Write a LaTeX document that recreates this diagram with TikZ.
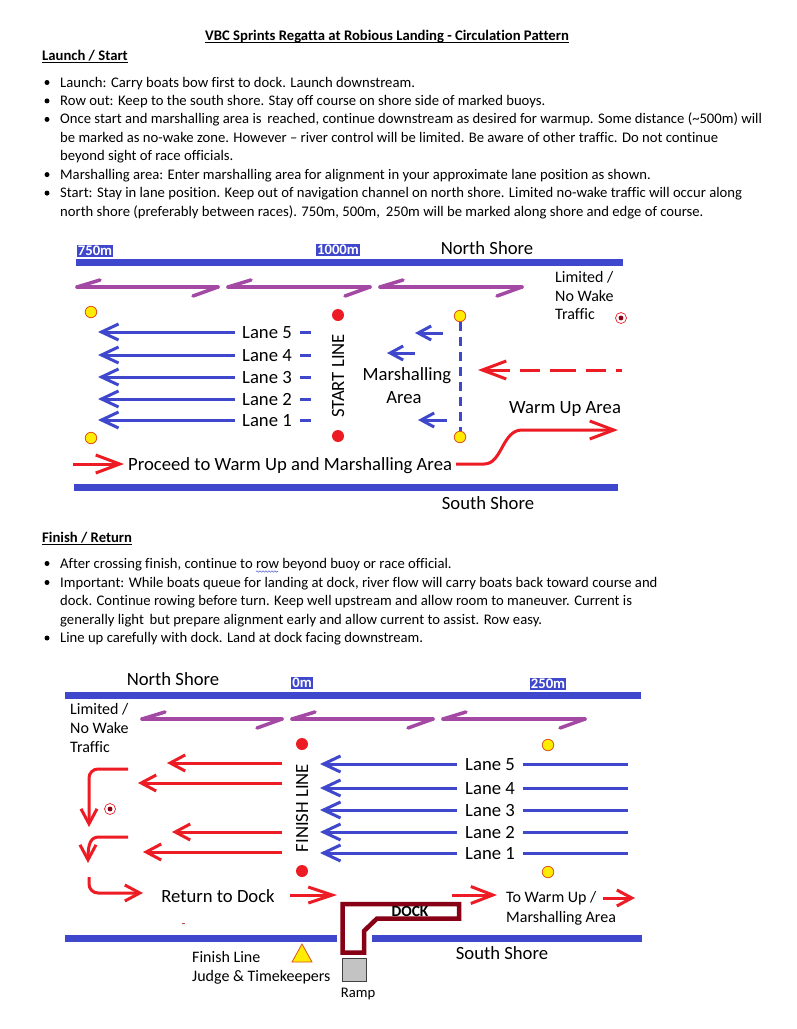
\documentclass[tikz,border=0pt]{standalone}
\usepackage{fontspec}
\setmainfont{Carlito}[Ligatures=NoCommon]
\usetikzlibrary{arrows.meta,decorations.pathmorphing}
\definecolor{myblue}{HTML}{3F48CC}
\definecolor{mypurple}{HTML}{A349A4}
\definecolor{myred}{HTML}{ED1C24}
\definecolor{myyellow}{HTML}{FFEC00}
\definecolor{myorange}{HTML}{D9531E}
\definecolor{mymaroon}{HTML}{880015}
\definecolor{mygrey}{HTML}{C3C3C3}
\newcommand{\fsz}[1]{\fontsize{#1}{#1}\selectfont}
\newcommand{\harp}[3]{%
  \draw[purp] (#1,#3) -- (#2,#3);
  \draw[purp] (#1,#3) -- ++(23,-7);
  \draw[purp] (#2,#3) -- ++(-25,9);}
\tikzset{
  body/.style={anchor=base west, inner sep=0pt, font=\fsz{14.67}},
  bodyb/.style={anchor=base west, inner sep=0pt, font=\bfseries\fsz{14.67}},
  lbl/.style={inner sep=0pt, font=\fsz{18.67}, text height=14pt, text depth=2pt},
  lane/.style={lbl, inner xsep=7pt},
  small/.style={anchor=west, inner sep=0pt, font=\fsz{16}, text height=12pt, text depth=1.6pt},
  shore/.style={draw=myblue, line width=7pt},
  distbox/.style={fill=myblue, draw=white, line width=1.2pt, text=white, font=\bfseries\fsz{14.67}, inner sep=1.5pt, text height=10pt, text depth=1pt},
  purp/.style={draw=mypurple, line width=3.5pt, line cap=round},
  bluearr/.style={draw=myblue, line width=3pt, -{Straight Barb[length=17pt,width=16pt]}},
  bluel/.style={draw=myblue, line width=3pt},
  redarr/.style={draw=myred, line width=3pt, -{Straight Barb[length=15pt,width=16pt]}},
  bigred/.style={draw=myred, line width=3pt, -{Straight Barb[length=24pt,width=18pt]}},
  smallblue/.style={draw=myblue, line width=3pt, -{Straight Barb[length=13pt,width=14pt]}},
  ydot/.style={circle, fill=myyellow, draw=myorange, line width=0.8pt, minimum size=11.5pt, inner sep=0pt},
  rdot/.style={circle, fill=myred, minimum size=12pt, inner sep=0pt},
  bull/.style={circle, fill=black, minimum size=5pt, inner sep=0pt},
  wake/.style={circle, draw=myred, line width=0.7pt, fill=white, minimum size=11pt, inner sep=0pt,
    path picture={\fill[mymaroon] (path picture bounding box.center) circle (2.4pt);}},
}
\begin{document}
\begin{tikzpicture}[x=1pt,y=-1pt]
\useasboundingbox (0,0) rectangle (797,1029);
\fill[white] (0,0) rectangle (797,1029);

% ---------- header text ----------
\node[bodyb, anchor=base] (title) at (387,40) {VBC Sprints Regatta at Robious Landing - Circulation Pattern};
\draw[line width=0.8pt] ([yshift=-2.6pt]title.base west) -- ([yshift=-2.6pt]title.base east);
\node[bodyb] (h1) at (42,60) {Launch / Start};
\draw[line width=0.8pt] ([yshift=-2.6pt]h1.base west) -- ([yshift=-2.6pt]h1.base east);

\node[bull] at (47,82.5) {};
\node[body] at (60,87) {Launch: Carry boats bow first to dock. Launch downstream.};
\node[bull] at (47,100.9) {};
\node[body] at (60,105.4) {Row out: Keep to the south shore. Stay off course on shore side of marked buoys.};
\node[bull] at (47,119.4) {};
\node[body] at (60,123.9) {Once start and marshalling area is\, reached, continue downstream as desired for warmup. Some distance (\textasciitilde500m) will};
\node[body] at (60,142.3) {be marked as no-wake zone. However – river control will be limited. Be aware of other traffic. Do not continue};
\node[body] at (60,160.7) {beyond sight of race officials.};
\node[bull] at (47,174.6) {};
\node[body] at (60,179.1) {Marshalling area: Enter marshalling area for alignment in your approximate lane position as shown.};
\node[bull] at (47,193.1) {};
\node[body] at (60,197.6) {Start: Stay in lane position. Keep out of navigation channel on north shore. Limited no-wake traffic will occur along};
\node[body] at (60,216) {north shore (preferably between races). 750m, 500m,\, 250m will be marked along shore and edge of course.};

% ---------- top diagram ----------
\draw[shore] (76,262) -- (623,262);
\node[distbox] (d750) at (95,251) {750m};
\node[distbox] (d1000) at (338,250) {1000m};
\node[lbl] (ns1) at (487,248) {North Shore};
\harp{77}{218}{287}
\harp{228}{370}{287}
\harp{380}{522}{287}
\node[small] at (555,277) {Limited /};
\node[small] at (555,296) {No Wake};
\node[small] at (555,314) {Traffic};
\node[wake] (w1) at (621,318) {};

\node[ydot] (y1) at (91,312) {};
\node[ydot] (y2) at (91,438) {};
\node[ydot] (y3) at (460,316) {};
\node[ydot] (y4) at (460,437) {};
\node[rdot] (r1) at (338,315) {};
\node[rdot] (r2) at (338,436) {};
\node[lbl, rotate=90] (sl) at (338,376) {START LINE};

\foreach \n/\y in {5/332,4/355,3/377,2/399,1/420}{
  \node[lane] (tl\n) at (267,\y) {Lane \n};
  \coordinate (te\n) at (98,\y);
  \draw[bluearr] (tl\n.west) -- (te\n);
  \draw[bluel] ([xshift=1pt]tl\n.east) -- ++(11,0);
}

\draw[smallblue] (443,333) -- (415,333);
\draw[smallblue] (415,353) -- (387,353);
\draw[smallblue] (447,420) -- (418,420);
\draw[bluel, dash pattern=on 9pt off 6pt] (y3) -- (y4);
\node[lbl] (ma1) at (407,374) {Marshalling};
\node[lbl] (ma2) at (404,397) {Area};

\draw[draw=myred, line width=3pt, dash pattern=on 26pt off 10pt on 20pt off 10pt, {Straight Barb[length=24pt,width=18pt]}-] (478,370) -- (622,370);
\node[lbl] (wu) at (565,407) {Warm Up Area};

\node[lbl, inner xsep=4pt, anchor=west] (proc) at (124,464) {Proceed to Warm Up and Marshalling Area};
\coordinate (pstart) at (73,464);
\draw[bigred] (pstart) -- (proc.west);
\coordinate (wend) at (618,430);
\draw[bigred] (proc.east) -- ++(28,0) .. controls +(18,0) and +(-20,0) .. (522,430) -- (wend);

\draw[shore] (74,487) -- (618,487);
\node[lbl] (ss1) at (488,503) {South Shore};

% ---------- finish text ----------
\node[bodyb] (h2) at (42,542) {Finish / Return};
\draw[line width=0.8pt] ([yshift=-2.6pt]h2.base west) -- ([yshift=-2.6pt]h2.base east);
\node[bull] at (47,563.5) {};
\node[body] at (60,568) {After crossing finish, continue to row beyond buoy or race official.};
\draw[draw=myblue!80, line width=0.6pt, decorate, decoration={snake, segment length=3pt, amplitude=0.7pt}] (256,571.5) -- (278,571.5);
\node[bull] at (47,582.5) {};
\node[body] at (60,587) {Important: While boats queue for landing at dock, river flow will carry boats back toward course and};
\node[body] at (60,605.5) {dock. Continue rowing before turn. Keep well upstream and allow room to maneuver. Current is};
\node[body] at (60,624) {generally light\, but prepare alignment early and allow current to assist. Row easy.};
\node[bull] at (47,638) {};
\node[body] at (60,642.5) {Line up carefully with dock. Land at dock facing downstream.};

% ---------- bottom diagram ----------
\draw[shore] (65,695) -- (641,695);
\node[lbl] (ns2) at (173,679) {North Shore};
\node[distbox] (d0) at (302,683) {0m};
\node[distbox] (d250) at (548,684) {250m};
\node[small] at (70,709) {Limited /};
\node[small] at (70,728) {No Wake};
\node[small] at (70,747) {Traffic};
\harp{142}{282}{719}
\harp{292}{433}{719}
\harp{443}{585}{719}

\node[rdot] (r3) at (302,744) {};
\node[rdot] (r4) at (302,871) {};
\node[lbl, rotate=90] (fl) at (302,808) {FINISH LINE};

\draw[redarr] (282,763) -- (167,763);
\draw[redarr] (282,783) -- (138,783);
\draw[redarr] (282,832) -- (172,832);
\draw[redarr] (282,852) -- (143,852);

\foreach \n/\y in {5/764,4/788,3/810,2/832,1/853}{
  \node[lane, inner xsep=8pt] (bl\n) at (490,\y) {Lane \n};
  \coordinate (ba\n) at (320,\y);
  \coordinate (bb\n) at (628,\y);
  \draw[bluearr] (bl\n.west) -- (ba\n);
  \draw[bluel] (bl\n.east) -- (bb\n);
}
\node[ydot] (y5) at (548,745) {};
\node[ydot] (y6) at (548,872) {};

\draw[redarr, rounded corners=9pt] (128,769) -- (89,769) -- (89,827);
\draw[redarr] (128,837) -- (99,837) .. controls (91,837) and (88,843) .. (88,863);
\draw[redarr, rounded corners=9pt] (89,877) -- (89,893) -- (143,893);
\node[wake] (w2) at (110,809) {};

\node[lbl] (ret) at (218,896) {Return to Dock};
\draw[draw=myred, line width=3pt, -{Straight Barb[length=24pt,width=16pt]}] (290,895) -- (337,895);
\draw[draw=myred!50!gray, line width=1pt] (181.5,923) -- (184.5,923);

\draw[shore] (65,938) -- (337,938);
\draw[shore] (372,938) -- (642,938);

\draw[mymaroon, fill=white, line width=4.5pt, line join=miter] (342.5,904) -- (459,904) -- (459,918.5) -- (377,918.5) -- (364,931) -- (364,952.5) -- (342.5,952.5) -- cycle;
\node[font=\bfseries\fsz{15.5}, inner sep=0pt, text height=10pt, text depth=0pt] (dock) at (410,911) {DOCK};
\node[draw=darkgray, fill=mygrey, minimum width=24pt, minimum height=23pt, inner sep=0pt, line width=0.8pt] (ramp) at (354,969.5) {};
\node[inner sep=0pt, font=\fsz{14.67}, text height=11pt, text depth=1.5pt] (rampl) at (358,993) {Ramp};

\draw[fill=myyellow, draw=myorange, line width=0.8pt] (292,962) -- (312,962) -- (302,944) -- cycle;
\node[small] at (192,957) {Finish Line};
\node[small] at (192,976) {Judge \& Timekeepers};
\node[lbl] (ss2) at (502,953) {South Shore};

\draw[draw=myred, line width=3pt, -{Straight Barb[length=22pt,width=17pt]}] (452,895) -- (497,895);
\node[small] at (506,897) {To Warm Up /};
\node[small] at (506,917) {Marshalling Area};
\draw[redarr] (603,898) -- (635,898);
\end{tikzpicture}
\end{document}
